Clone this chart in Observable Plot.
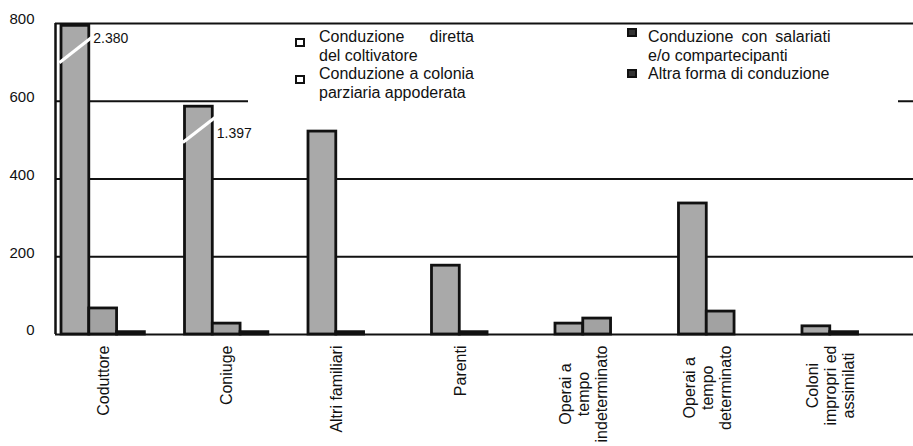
<!DOCTYPE html>
<html>
<head>
<meta charset="utf-8">
<script src="https://cdn.jsdelivr.net/npm/d3@7"></script>
<script src="https://cdn.jsdelivr.net/npm/@observablehq/plot@0.6"></script>
<style>
  body { margin: 0; background: #fff; font-family: "Liberation Sans", Arial, sans-serif; }
  #wrap { position: relative; width: 913px; height: 446px; overflow: hidden; background: #fff; }
  #legend { position: absolute; left: 248px; top: 26px; width: 650px; height: 86px; background: #fff; }
  .col { position: absolute; top: 2px; font-size: 16px; line-height: 18.5px; color: #111; }
  .col div { text-align: justify; }
  .mk { position: absolute; box-sizing: border-box; width: 10px; height: 9px; border: 2.5px solid #111; }
</style>
</head>
<body>
<div id="wrap"><div id="chart"></div><div id="legend"></div></div>
<script>
// ---- data ----
const categories = ["Coduttore", "Coniuge", "Altri familiari", "Parenti",
  "Operai a tempo indeterminato", "Operai a tempo determinato", "Coloni impropri ed assimilati"];
const tickLabels = ["Coduttore", "Coniuge", "Altri familiari", "Parenti",
  "Operai a\ntempo\nindeterminato", "Operai a\ntempo\ndeterminato", "Coloni\nimpropri ed\nassimilati"];
const seriesNames = ["Conduzione diretta del coltivatore", "Conduzione a colonia parziaria appoderata",
  "Conduzione con salariati e/o compartecipanti", "Altra forma di conduzione"];
const diretta   = [2380, 1397, 522, 177, 28, 337, 21];
const colonia   = [67, 28, 0, 0, 41, 59, 0];
const salariati = [6, 6, 6, 6, 0, 0, 6];
const altra     = [0, 0, 0, 0, 0, 0, 0];
const yTicks = [0, 200, 400, 600, 800];
// broken (truncated) bars
const brokenCategories = ["Coduttore", "Coniuge"];
const brokenShownAt = [794, 586];
const breakFrom = [699, 494];
const breakTo = [764, 558];
const breakLabelAt = [761, 517];

// ---- build ----
const seriesValues = [diretta, colonia, salariati, altra];
const seriesColors = ["#a9a9a9", "#a2a2a2", "#141414", "#141414"];
const W = 0.225; // bar width in group units
const fmt = d3.formatLocale({decimal: ",", thousands: ".", grouping: [3], currency: ["", "€"]}).format(",");

const rows = [];
const groupInfo = [];
categories.forEach((c, i) => {
  let k = 0;
  seriesValues.forEach((vals, s) => {
    const v = vals[i];
    if (v > 0) {
      const bi = brokenCategories.indexOf(c);
      const shown = (s === 0 && bi >= 0) ? Math.min(v, brokenShownAt[bi]) : v;
      rows.push({cat: c, series: seriesNames[s], value: v, shown, base: 0, x1: i + k * W, x2: i + (k + 1) * W});
      k++;
    }
  });
  groupInfo.push({cat: c, label: tickLabels[i], lx: i + k * W / 2, y0: 0});
});

const breakRows = brokenCategories.map((c, j) => {
  const i = categories.indexOf(c);
  return {cat: c, x1: i - 0.018, x2: i + W + 0.018, y1: breakFrom[j], y2: breakTo[j],
    xr: i + W, ly: breakLabelAt[j], label: fmt(diretta[i])};
});

// measure label lengths for top alignment of rotated multi-line labels
const ctx = document.createElement("canvas").getContext("2d");
ctx.font = "16px 'Liberation Sans', Arial, sans-serif";
const labelMarks = groupInfo.map(g => {
  const len = d3.max(g.label.split("\n"), l => ctx.measureText(l).width);
  return Plot.text([g], {x: "lx", y: "y0", text: "label", rotate: -90, textAnchor: "middle",
    lineAnchor: "middle", lineHeight: 1.125, fontSize: 16, fill: "#111", dy: 11 + len / 2});
});

const xDomain = [-0.0486, 6.899];
const yAxisMark = (typeof Plot.axisY === "function")
  ? Plot.axisY(yTicks, {tickSize: 0, tickPadding: 21, fontSize: 15, dy: -4, label: null, fill: "#111"})
  : Plot.text(yTicks, {x: () => xDomain[0], y: d => d, text: d => String(d), dx: -21, dy: -4, textAnchor: "end", fontSize: 15});

const chart = Plot.plot({
  width: 913, height: 446,
  marginLeft: 55, marginRight: 0, marginTop: 23, marginBottom: 112,
  x: {domain: xDomain, axis: null},
  y: {domain: [0, 800], axis: null},
  color: {domain: seriesNames, range: seriesColors},
  style: {fontFamily: "'Liberation Sans', Arial, sans-serif", background: "#fff", color: "#111", overflow: "visible"},
  marks: [
    Plot.ruleY(yTicks, {stroke: "#111", strokeWidth: 2.2}),
    Plot.ruleX([xDomain[0]], {y1: 0, y2: 800, stroke: "#111", strokeWidth: 2.5}),
    Plot.rect(rows, {x1: "x1", x2: "x2", y1: "base", y2: "shown", fill: "series", stroke: "#111", strokeWidth: 2.8}),
    Plot.link(breakRows, {x1: "x1", x2: "x2", y1: "y1", y2: "y2", stroke: "#fff", strokeWidth: 3.2}),
    Plot.text(breakRows, {x: "xr", y: "ly", text: "label", textAnchor: "start", dx: 4, fontSize: 14, fill: "#111"}),
    yAxisMark,
    ...labelMarks
  ]
});
document.getElementById("chart").appendChild(chart);

// ---- legend ----
const legend = document.getElementById("legend");
const col1 = document.createElement("div");
col1.className = "col"; col1.style.left = "71px"; col1.style.width = "155px";
const col2 = document.createElement("div");
col2.className = "col"; col2.style.left = "400px"; col2.style.width = "182.5px";
[[col1, 0], [col1, 1], [col2, 2], [col2, 3]].forEach(([col, s]) => {
  const d = document.createElement("div");
  d.textContent = seriesNames[s];
  col.appendChild(d);
});
legend.appendChild(col1); legend.appendChild(col2);
const markers = [
  {left: 47, top: 12, bg: "#fff"},
  {left: 47, top: 49, bg: "#fff"},
  {left: 379, top: 2, bg: "#333"},
  {left: 379, top: 43, bg: "#333"}
];
markers.forEach(m => {
  const e = document.createElement("div");
  e.className = "mk";
  e.style.left = m.left + "px"; e.style.top = m.top + "px"; e.style.background = m.bg;
  legend.appendChild(e);
});
</script>
</body>
</html>
